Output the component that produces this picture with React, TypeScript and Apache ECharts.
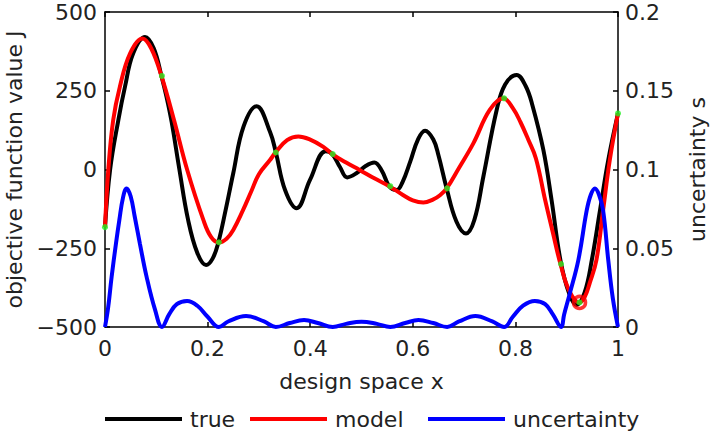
import React, { useEffect, useRef } from "react";
import * as echarts from "echarts";

// True objective function J(x): [x, J]
const trueCurve: number[][] = [
  [0, -183], [0.01, 0], [0.026, 157], [0.039, 263], [0.055, 369], [0.078, 421],
  [0.095, 385], [0.11, 297], [0.12, 230], [0.13, 150], [0.145, 0], [0.162, -160],
  [0.18, -265], [0.197, -303], [0.21, -282], [0.221, -231], [0.235, -130], [0.25, -12],
  [0.27, 136], [0.2957, 201], [0.3216, 120], [0.333, 55], [0.351, -65], [0.3736, -123],
  [0.3996, -33], [0.43, 58], [0.443, 49], [0.458, 8], [0.472, -25], [0.49, -12],
  [0.508, 11], [0.525, 22], [0.54, -5], [0.554, -53], [0.5686, -65], [0.58, -40],
  [0.595, 25], [0.61, 95], [0.6238, 123], [0.64, 95], [0.65, 45], [0.666, -60],
  [0.685, -165], [0.7037, -203], [0.72, -160], [0.7375, -23], [0.7635, 189], [0.78, 270],
  [0.8025, 300], [0.82, 265], [0.833, 205], [0.8545, 62], [0.8705, -97], [0.888, -290],
  [0.905, -395], [0.919, -430], [0.935, -390], [0.949, -287], [0.965, -129], [0.981, 30],
  [1, 178],
];

// Surrogate model prediction: [x, J]
const modelCurve: number[][] = [
  [0, -183], [0.0065, 0], [0.016, 157], [0.029, 263], [0.049, 369], [0.073, 416],
  [0.09, 385], [0.11, 297], [0.1345, 157], [0.16, 0], [0.1917, -160], [0.207, -215],
  [0.222, -232], [0.237, -220], [0.25, -192], [0.269, -129], [0.285, -70], [0.3, -15],
  [0.3216, 30], [0.333, 55], [0.355, 93], [0.377, 105], [0.4, 95], [0.4256, 72],
  [0.443, 49], [0.47, 22], [0.497, -2], [0.525, -28], [0.554, -53], [0.58, -80],
  [0.6, -98], [0.6205, -105], [0.64, -95], [0.653, -82], [0.666, -60], [0.69, 5],
  [0.718, 83], [0.75, 189], [0.7765, 226], [0.795, 195], [0.81, 150], [0.825, 95],
  [0.84, 35], [0.858, -97], [0.873, -200], [0.888, -301], [0.905, -385], [0.925, -422],
  [0.935, -405], [0.945, -360], [0.958, -287], [0.971, -129], [0.984, 30], [1, 178],
];

// Model uncertainty s (right axis): [x, s]
const uncertaintyCurve: number[][] = [
  [0, 0], [0.006, 0.012], [0.013, 0.032], [0.0214, 0.053], [0.028, 0.068], [0.035, 0.082],
  [0.042, 0.088], [0.05, 0.083], [0.058, 0.07], [0.068, 0.053], [0.081, 0.032],
  [0.0975, 0.011], [0.111, 0],
  [0.125, 0.008], [0.14, 0.0145], [0.16, 0.0165], [0.18, 0.0135], [0.2, 0.0065], [0.222, 0],
  [0.24, 0.0035], [0.275, 0.007], [0.31, 0.0035], [0.333, 0],
  [0.36, 0.0025], [0.388, 0.0044], [0.415, 0.0025], [0.444, 0],
  [0.47, 0.002], [0.5, 0.0034], [0.53, 0.002], [0.556, 0],
  [0.585, 0.0025], [0.611, 0.0044], [0.64, 0.0025], [0.667, 0],
  [0.69, 0.0035], [0.722, 0.007], [0.755, 0.0035], [0.778, 0],
  [0.795, 0.0065], [0.815, 0.0135], [0.838, 0.0165], [0.858, 0.0145], [0.873, 0.008], [0.889, 0],
  [0.895, 0.008], [0.905, 0.02], [0.9227, 0.0425], [0.939, 0.074], [0.947, 0.084],
  [0.955, 0.088], [0.963, 0.084], [0.971, 0.074], [0.981, 0.0425], [0.99, 0.018], [1, 0],
];

// Sampled design points (green dots)
const samples: number[][] = [
  [0, -183], [0.111, 297], [0.222, -231], [0.333, 54], [0.444, 49], [0.556, -53],
  [0.667, -60], [0.778, 226], [0.889, -300], [1, 178], [0.925, -422],
];

// Newest sample (red ring)
const newSample: number[][] = [[0.925, -422]];

const xTicks = { min: 0, max: 1, interval: 0.2 };
const leftTicks = { min: -500, max: 500, interval: 250 };
const rightTicks = { min: 0, max: 0.2, interval: 0.05 };

const FONT = "DejaVu Sans";
const TXT = "#222";

export default function App() {
  const ref = useRef<HTMLDivElement>(null);
  useEffect(() => {
    if (!ref.current) return;
    const chart = echarts.init(ref.current, undefined, { renderer: "svg" });
    const axisLine = { show: true, onZero: false, lineStyle: { color: "#000", width: 1.5 } };
    const axisTick = { show: true, inside: true, length: 5, lineStyle: { color: "#000", width: 1.5 } };
    const labelStyle = { fontSize: 22, fontFamily: FONT, color: TXT };
    const legendBase = {
      top: 408, padding: 0, itemWidth: 77, itemHeight: 4, icon: "rect",
      textStyle: { ...labelStyle, padding: [0, 0, 0, 3] },
    };
    chart.setOption({
      animation: false,
      backgroundColor: "#fff",
      textStyle: { fontFamily: FONT },
      grid: { left: 105, right: 96, top: 12, bottom: 113, containLabel: false, outerBoundsMode: "none" },
      legend: [
        { ...legendBase, data: ["true"], left: 105 },
        { ...legendBase, data: ["model"], left: 250 },
        { ...legendBase, data: ["uncertainty"], left: 428 },
      ],
      xAxis: [
        {
          type: "value", position: "bottom", ...xTicks,
          axisLine, axisTick, splitLine: { show: false },
          axisLabel: { ...labelStyle, margin: 10 },
          name: "design space x", nameLocation: "middle", nameGap: 43,
          nameTextStyle: { ...labelStyle },
        },
        {
          type: "value", position: "top", ...xTicks,
          axisLine, axisTick, splitLine: { show: false },
          axisLabel: { show: false },
        },
      ],
      yAxis: [
        {
          type: "value", position: "left", ...leftTicks,
          axisLine, axisTick, splitLine: { show: false },
          axisLabel: { ...labelStyle, margin: 8, formatter: (v: number) => String(v).replace("-", "\u2212") },
          name: "objective function value J", nameLocation: "middle", nameGap: 76, nameRotate: 90,
          nameTextStyle: { ...labelStyle },
        },
        {
          type: "value", position: "right", ...rightTicks,
          axisLine, axisTick, splitLine: { show: false },
          axisLabel: { ...labelStyle, margin: 7 },
          name: "uncertainty s", nameLocation: "middle", nameGap: 68, nameRotate: 90,
          nameTextStyle: { ...labelStyle },
        },
      ],
      series: [
        {
          name: "true", type: "line", data: trueCurve, xAxisIndex: 0, yAxisIndex: 0,
          smooth: 0.4, showSymbol: false, color: "#000",
          lineStyle: { color: "#000", width: 4 },
        },
        {
          name: "model", type: "line", data: modelCurve, xAxisIndex: 0, yAxisIndex: 0,
          smooth: 0.4, showSymbol: false, color: "#ff0000",
          lineStyle: { color: "#ff0000", width: 4 },
        },
        {
          name: "uncertainty", type: "line", data: uncertaintyCurve, xAxisIndex: 0, yAxisIndex: 1,
          smooth: 0.4, showSymbol: false, color: "#0000ff",
          lineStyle: { color: "#0000ff", width: 4 },
        },
        {
          name: "new sample", type: "scatter", data: newSample, xAxisIndex: 0, yAxisIndex: 0,
          symbol: "circle", symbolSize: 12, z: 5, clip: false,
          itemStyle: { color: "rgba(0,0,0,0)", borderColor: "#ff0000", borderWidth: 3.5 },
        },
        {
          name: "samples", type: "scatter", data: samples, xAxisIndex: 0, yAxisIndex: 0,
          symbol: "circle", symbolSize: 6, z: 6, clip: false, itemStyle: { color: "#22ee22" },
        },
      ],
    });
    return () => chart.dispose();
  }, []);
  return (
    <div
      ref={ref}
      style={{ position: "fixed", left: 0, top: 0, width: 714, height: 440, background: "#fff" }}
    />
  );
}
